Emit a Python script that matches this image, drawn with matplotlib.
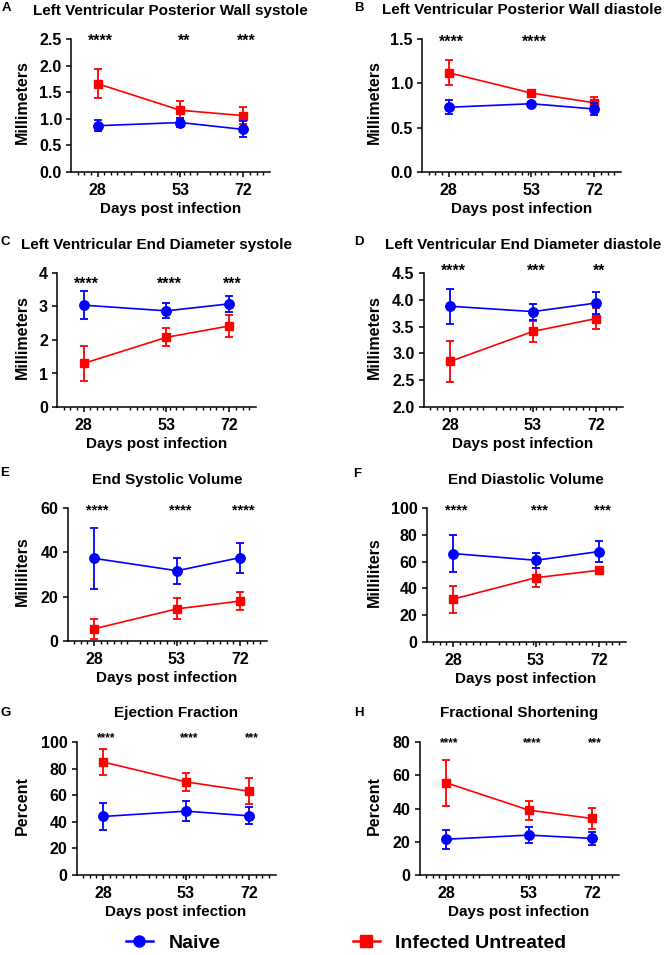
import matplotlib
matplotlib.use('Agg')
import matplotlib.pyplot as plt
from matplotlib.lines import Line2D
from matplotlib.ticker import FormatStrFormatter

plt.rcParams['font.family'] = ['Liberation Sans', 'DejaVu Sans']
plt.rcParams['font.weight'] = 'bold'

days = [28, 53, 72]

letters = ['A', 'B', 'C', 'D', 'E', 'F', 'G', 'H']
titles = ['Left Ventricular Posterior Wall systole',
          'Left Ventricular Posterior Wall diastole',
          'Left Ventricular End Diameter systole',
          'Left Ventricular End Diameter diastole',
          'End Systolic Volume',
          'End Diastolic Volume',
          'Ejection Fraction',
          'Fractional Shortening']
ylabels = ['Millimeters', 'Millimeters', 'Millimeters', 'Millimeters',
           'Milliliters', 'Milliliters', 'Percent', 'Percent']

naive_mean = [[0.87, 0.93, 0.80], [0.73, 0.77, 0.71], [3.04, 2.87, 3.08], [3.88, 3.78, 3.94],
              [37.3, 31.7, 37.6], [66, 61, 67.5], [44, 48, 44.5], [21.5, 24, 22]]
naive_sd = [[0.10, 0.08, 0.15], [0.08, 0.015, 0.07], [0.42, 0.22, 0.23], [0.33, 0.15, 0.20],
            [13.7, 5.8, 6.7], [14, 5.7, 8], [10.3, 7.7, 6.5], [5.7, 5, 3.8]]
infected_mean = [[1.66, 1.16, 1.06], [1.12, 0.89, 0.78], [1.30, 2.08, 2.42], [2.85, 3.41, 3.65],
                 [5.5, 14.5, 18.0], [32, 48, 53.5], [85, 70, 63], [55.5, 39, 34]]
infected_sd = [[0.27, 0.17, 0.16], [0.14, 0.04, 0.07], [0.53, 0.27, 0.33], [0.39, 0.20, 0.20],
               [4.5, 4.8, 4.0], [10, 7, 1.5], [9.7, 7, 9.7], [13.7, 5.7, 6.5]]

stars = [['****', '**', '***'], ['****', '****', ''], ['****', '****', '***'], ['****', '***', '**'],
         ['****', '****', '****'], ['****', '***', '***'], ['****', '****', '***'], ['****', '****', '***']]
star_y = [2.45, 1.46, 3.67, 4.54, 59, 98, 103, 79.4]
star_size = [11.5, 11.5, 11.5, 11.5, 10.5, 10.5, 8.5, 8.5]

ylims = [(0, 2.5), (0, 1.5), (0, 4), (2, 4.5), (0, 60), (0, 100), (0, 100), (0, 80)]
ysteps = [0.5, 0.5, 1, 0.5, 20, 20, 20, 20]
yfmt = ['%.1f', '%.1f', '%d', '%.1f', '%d', '%d', '%d', '%d']

# layout in pixels: left, top, height of each axes; letter positions
W, H = 664, 955
ax_pos = [(71, 39, 133), (422, 39, 133), (57, 273, 134), (423.5, 273, 134),
          (67.5, 508, 133), (426.5, 508, 134), (76.5, 742, 133), (419.5, 742, 133)]
letter_pos = [(6.5, 8), (359, 8), (5, 242), (359, 242), (5, 473), (357, 474), (6, 713), (359, 713)]
ylabel_x = [22, 374]
ax_w = 199

minor = [d for d in range(22, 80, 2) if d % 20 != 0 and d not in days]

fig = plt.figure(figsize=(W / 100, H / 100), dpi=100)

for i in range(8):
    left, top, hgt = ax_pos[i]
    ax = fig.add_axes([left / W, 1 - (top + hgt) / H, ax_w / W, hgt / H])

    ax.errorbar(days, infected_mean[i], yerr=infected_sd[i], color='#ff0000', marker='s', ms=6.3,
                lw=1.2, elinewidth=1.3, capsize=2.6, capthick=1.3, zorder=3, clip_on=False)
    ax.errorbar(days, naive_mean[i], yerr=naive_sd[i], color='#0000ff', marker='o', ms=6.8,
                lw=1.2, elinewidth=1.3, capsize=2.6, capthick=1.3, zorder=4, clip_on=False)

    for d, s in zip(days, stars[i]):
        if s:
            ax.text(d + 1, star_y[i], s, ha='center', va='center', fontsize=star_size[i],
                    fontweight='bold', clip_on=False)

    lo, hi = ylims[i]
    ax.set_xlim(20, 80)
    ax.set_ylim(lo, hi)
    n = int(round((hi - lo) / ysteps[i]))
    ax.set_yticks([lo + k * ysteps[i] for k in range(n + 1)])
    ax.yaxis.set_major_formatter(FormatStrFormatter(yfmt[i]))
    ax.set_xticks(days)
    ax.set_xticks(minor, minor=True)
    ax.tick_params(axis='both', which='major', labelsize=11.5, width=1.1, length=3.5, pad=3)
    ax.tick_params(axis='x', which='major', pad=4.5)
    ax.tick_params(axis='x', which='minor', width=1.0, length=2)
    for lab in ax.get_xticklabels() + ax.get_yticklabels():
        lab.set_fontweight('bold')
    ax.spines['top'].set_visible(False)
    ax.spines['right'].set_visible(False)
    ax.spines['left'].set_linewidth(1.1)
    ax.spines['bottom'].set_linewidth(1.1)
    ax.set_xlabel('Days post infection', fontsize=11, fontweight='bold', labelpad=3)

    cx = left + ax_w / 2
    fig.text(cx / W, 1 - (top - 28.5) / H, titles[i], ha='center', va='center',
             fontsize=11, fontweight='bold')
    fig.text(ylabel_x[i % 2] / W, 1 - (top + hgt / 2 - 3) / H, ylabels[i], rotation=90,
             ha='center', va='center', fontsize=11.5, fontweight='bold')
    lx, ly = letter_pos[i]
    fig.text(lx / W, 1 - ly / H, letters[i], ha='center', va='center', fontsize=9.5, fontweight='bold')

handles = [Line2D([], [], color='#0000ff', marker='o', ms=8, lw=1.8),
           Line2D([], [], color='#ff0000', marker='s', ms=8, lw=1.8)]
fig.legend(handles, ['Naive', 'Infected Untreated'], loc='center',
           bbox_to_anchor=(346 / W, 1 - 943 / H), ncol=2, frameon=False,
           prop={'size': 14, 'weight': 'bold'}, handlelength=1.4, handletextpad=0.8,
           columnspacing=6.8)

fig.savefig('out.png', dpi=100)
